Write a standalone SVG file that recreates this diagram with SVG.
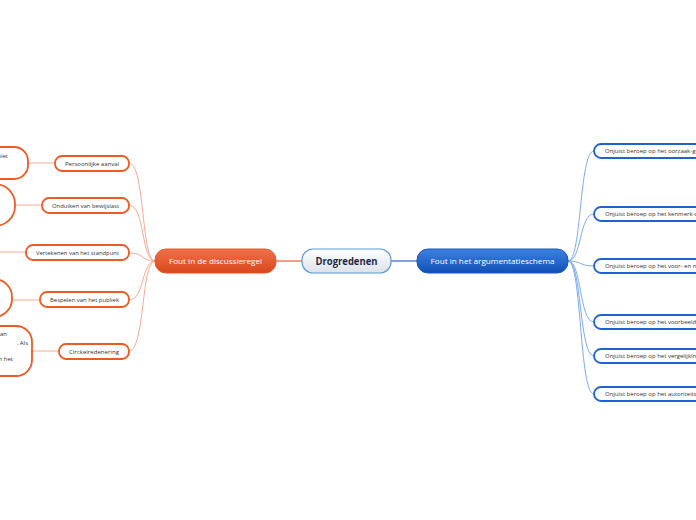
<svg xmlns="http://www.w3.org/2000/svg" width="696" height="520" viewBox="0 0 696 520">
<defs>
<linearGradient id="gc" x1="0" y1="0" x2="0" y2="1"><stop offset="0" stop-color="#ffffff"/><stop offset="1" stop-color="#dde2e8"/></linearGradient>
<linearGradient id="go" x1="0" y1="0" x2="0" y2="1"><stop offset="0" stop-color="#f0714a"/><stop offset="1" stop-color="#d9461c"/></linearGradient>
<linearGradient id="gb" x1="0" y1="0" x2="0" y2="1"><stop offset="0" stop-color="#3c82e2"/><stop offset="1" stop-color="#1150b6"/></linearGradient>
</defs>
<style>
text{font-family:"Open Sans","Noto Sans","Liberation Sans",sans-serif;}
.sub-o{fill:#fff;stroke:#ee5a24;stroke-width:1.8;}
.sub-b{fill:#fff;stroke:#1f63d0;stroke-width:1.8;}
.lt{font-size:6px;fill:#333;}
.rt{font-size:6px;fill:#333;}
.co{fill:none;stroke:#f6ab91;stroke-width:1;}
.cb{fill:none;stroke:#7eaaee;stroke-width:1;}
</style>
<rect width="696" height="520" fill="#fff"/>
<g id="connectors">
<path d="M275 261 H302" stroke="#e8603a" stroke-width="1.2" fill="none"/>
<path d="M391 261 H418" stroke="#2a66c8" stroke-width="1.2" fill="none"/>
<path class="co" d="M155 261 C141 261 145 163 129 163"/>
<path class="co" d="M155 261 C141 261 145 205 129 205"/>
<path class="co" d="M155 261 C141 261 145 253 129 253"/>
<path class="co" d="M155 261 C141 261 145 300 129 300"/>
<path class="co" d="M155 261 C141 261 145 351 129 351"/>
<path class="co" d="M28 163 H55"/>
<path class="co" d="M15 205 H42"/>
<path class="co" d="M0 252 H26"/>
<path class="co" d="M12 300 H40"/>
<path class="co" d="M32 351 H59"/>
<path class="cb" d="M568 261 C582 261 579 151 594 151"/>
<path class="cb" d="M568 261 C582 261 579 214 594 214"/>
<path class="cb" d="M568 261 C582 261 579 266 594 266"/>
<path class="cb" d="M568 261 C582 261 579 322 594 322"/>
<path class="cb" d="M568 261 C582 261 579 356 594 356"/>
<path class="cb" d="M568 261 C582 261 579 394 594 394"/>
</g>
<g id="center">
<rect x="302" y="249" width="89" height="24" rx="11" fill="url(#gc)" stroke="#5b9bd5" stroke-width="1.2"/>
<text x="346.5" y="265" text-anchor="middle" font-size="10.5" font-weight="bold" fill="#1d2a4a" textLength="62" lengthAdjust="spacingAndGlyphs">Drogredenen</text>
</g>
<g id="main-left">
<rect x="155" y="249" width="121" height="24" rx="11" fill="url(#go)" stroke="#e8582a" stroke-width="1"/>
<text x="215.5" y="264" text-anchor="middle" font-size="8" fill="#fff" textLength="93" lengthAdjust="spacingAndGlyphs">Fout in de discussieregel</text>
</g>
<g id="main-right">
<rect x="417" y="249" width="151" height="24" rx="11" fill="url(#gb)" stroke="#1a56c0" stroke-width="1"/>
<text x="492.5" y="264" text-anchor="middle" font-size="8" fill="#fff" textLength="124" lengthAdjust="spacingAndGlyphs">Fout in het argumentatieschema</text>
</g>
<g id="n-persoonlijke">
<rect class="sub-o" x="55" y="156" width="74" height="15" rx="7"/>
<text class="lt" x="65" y="165.5" textLength="54" lengthAdjust="spacingAndGlyphs">Persoonlijke aanval</text>
</g>
<g id="n-onduiken">
<rect class="sub-o" x="42" y="198" width="87" height="15" rx="7"/>
<text class="lt" x="52" y="207.5" textLength="67" lengthAdjust="spacingAndGlyphs">Onduiken van bewijslast</text>
</g>
<g id="n-vertekenen">
<rect class="sub-o" x="26" y="245" width="103" height="15" rx="7"/>
<text class="lt" x="36" y="254.5" textLength="83" lengthAdjust="spacingAndGlyphs">Vertekenen van het standpunt</text>
</g>
<g id="n-bespelen">
<rect class="sub-o" x="40" y="292" width="89" height="15" rx="7"/>
<text class="lt" x="50" y="301.5" textLength="69" lengthAdjust="spacingAndGlyphs">Bespelen van het publiek</text>
</g>
<g id="n-circkel">
<rect class="sub-o" x="59" y="344" width="70" height="15" rx="7"/>
<text class="lt" x="69" y="353.5" textLength="50" lengthAdjust="spacingAndGlyphs">Circkelredenering</text>
</g>
<g id="leaf-1">
<rect class="sub-o" x="-120" y="147" width="148" height="32" rx="14"/>
<text class="lt" x="8" y="158" text-anchor="end">niet</text>
</g>
<g id="leaf-2">
<rect class="sub-o" x="-120" y="184" width="135" height="42" rx="20"/>
</g>
<g id="leaf-4">
<rect class="sub-o" x="-120" y="279" width="132" height="38" rx="18"/>
</g>
<g id="leaf-5">
<rect class="sub-o" x="-120" y="326" width="152" height="50" rx="16"/>
<text class="lt" x="7" y="336" text-anchor="end">van</text>
<text class="lt" x="28" y="345" text-anchor="end">. Als</text>
<text class="lt" x="13" y="361" text-anchor="end">van het</text>
</g>
<g id="r-oorzaak">
<rect class="sub-b" x="594" y="144" width="180" height="14" rx="7"/>
<text class="rt" x="605" y="153">Onjuist beroep op het oorzaak-gevolgschema</text>
</g>
<g id="r-kenmerk">
<rect class="sub-b" x="594" y="207" width="180" height="14" rx="7"/>
<text class="rt" x="605" y="216">Onjuist beroep op het kenmerk-of tekenschema</text>
</g>
<g id="r-voor">
<rect class="sub-b" x="594" y="259" width="180" height="14" rx="7"/>
<text class="rt" x="605" y="268">Onjuist beroep op het voor- en nadelenschema</text>
</g>
<g id="r-voorbeeld">
<rect class="sub-b" x="594" y="315" width="180" height="14" rx="7"/>
<text class="rt" x="605" y="324">Onjuist beroep op het voorbeeldschema</text>
</g>
<g id="r-vergelijking">
<rect class="sub-b" x="594" y="349" width="180" height="14" rx="7"/>
<text class="rt" x="605" y="358">Onjuist beroep op het vergelijkingsschema</text>
</g>
<g id="r-autoriteit">
<rect class="sub-b" x="594" y="387" width="180" height="14" rx="7"/>
<text class="rt" x="605" y="396">Onjuist beroep op het autoriteitsschema</text>
</g>
</svg>
